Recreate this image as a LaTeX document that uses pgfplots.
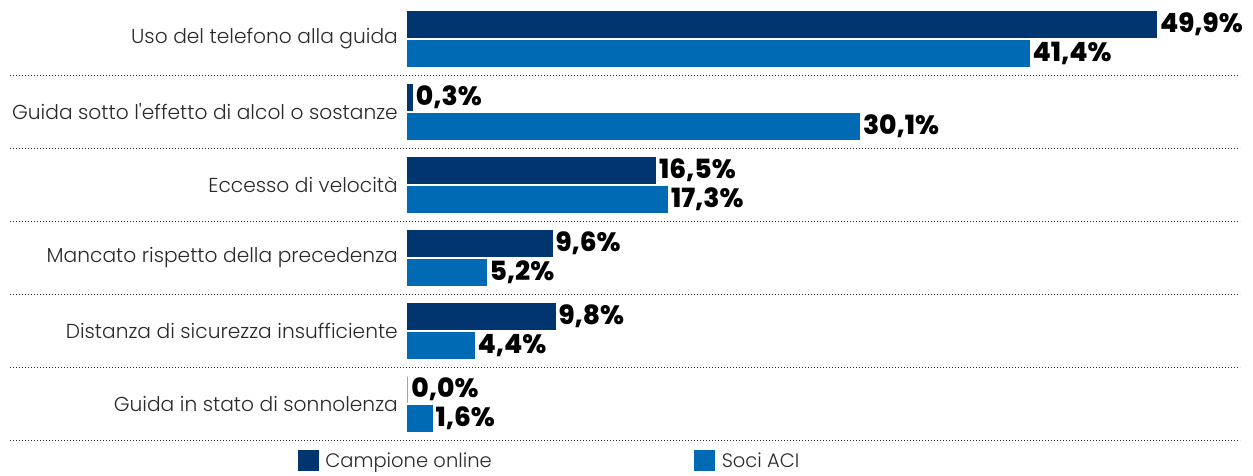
\documentclass[border=0pt]{standalone}
\usepackage{pgfplots}
\pgfplotsset{compat=1.18}
\usepackage{fontspec}
\setmainfont{Poppins}[UprightFont=* Light, BoldFont=* Bold]
\newfontfamily\valfont{Poppins ExtraBold}
\definecolor{cdark}{HTML}{00356F}
\definecolor{clight}{HTML}{006AB4}
\definecolor{ctext}{HTML}{2A2A2A}
\begin{document}
\begin{tikzpicture}
\useasboundingbox (0,0) rectangle (1253pt,475pt);
\begin{axis}[
  at={(408pt,34.5pt)}, anchor=south west,
  x=15pt, y=73pt, y dir=reverse,
  xmin=0, xmax=55.47, ymin=-0.5, ymax=5.5,
  xbar, bar width=26pt,
  axis line style={draw=none}, xtick=\empty,
  ytick={0,1,2,3,4,5},
  yticklabels={Uso del telefono alla guida,Guida sotto l\textquotesingle effetto di alcol o sostanze,Eccesso di velocità,Mancato rispetto della precedenza,Distanza di sicurezza insufficiente,Guida in stato di sonnolenza},
  major tick length=0pt,
  yticklabel style={font=\fontsize{20.2}{23}\selectfont, text=ctext, inner sep=0pt, anchor=east, xshift=-10pt},
  clip=false,
  /pgf/number format/.cd, fixed, fixed zerofill, precision=1, use comma, assume math mode=true, /pgfplots/.cd,
  nodes near coords={\pgfmathprintnumber{\pgfplotspointmeta}\%},
  nodes near coords style={anchor=west, font=\valfont\fontsize{26.5}{30}\selectfont, text=black, inner sep=0pt, xshift=3pt},
  legend columns=2,
  legend cell align=left,
  legend style={at={(-0.1322,-0.04566)}, anchor=west, draw=none, fill=none, inner sep=0pt, outer sep=0pt,
    nodes={inner sep=0pt, font=\fontsize{19.5}{23}\selectfont, text=ctext},
    /tikz/every odd column/.append style={column sep=7pt}},
]
\addplot[fill=cdark, draw=cdark, line width=1pt, bar shift=14.5pt, forget plot]
  coordinates {(49.9,0) (0.3,1) (16.5,2) (9.6,3) (9.8,4) (0.0,5)};
\addplot[fill=clight, draw=clight, line width=1pt, bar shift=-14.5pt, forget plot]
  coordinates {(41.4,0) (30.1,1) (17.3,2) (5.2,3) (4.4,4) (1.6,5)};
\addlegendimage{legend image code/.code={\fill[cdark] (0pt,-10pt) rectangle (20pt,10pt);}}
\addlegendentry{\makebox[369pt][l]{Campione online}}
\addlegendimage{legend image code/.code={\fill[clight] (0pt,-10pt) rectangle (20pt,10pt);}}
\addlegendentry{Soci ACI}
\draw[ctext, line width=0.8pt, dash pattern=on 1.3pt off 1.7pt] (axis cs:-26.53,0.5) -- (axis cs:55.47,0.5);
\draw[ctext, line width=0.8pt, dash pattern=on 1.3pt off 1.7pt] (axis cs:-26.53,1.5) -- (axis cs:55.47,1.5);
\draw[ctext, line width=0.8pt, dash pattern=on 1.3pt off 1.7pt] (axis cs:-26.53,2.5) -- (axis cs:55.47,2.5);
\draw[ctext, line width=0.8pt, dash pattern=on 1.3pt off 1.7pt] (axis cs:-26.53,3.5) -- (axis cs:55.47,3.5);
\draw[ctext, line width=0.8pt, dash pattern=on 1.3pt off 1.7pt] (axis cs:-26.53,4.5) -- (axis cs:55.47,4.5);
\draw[ctext, line width=0.8pt, dash pattern=on 1.3pt off 1.7pt] (axis cs:-26.53,5.5) -- (axis cs:55.47,5.5);
\end{axis}
\end{tikzpicture}
\end{document}
